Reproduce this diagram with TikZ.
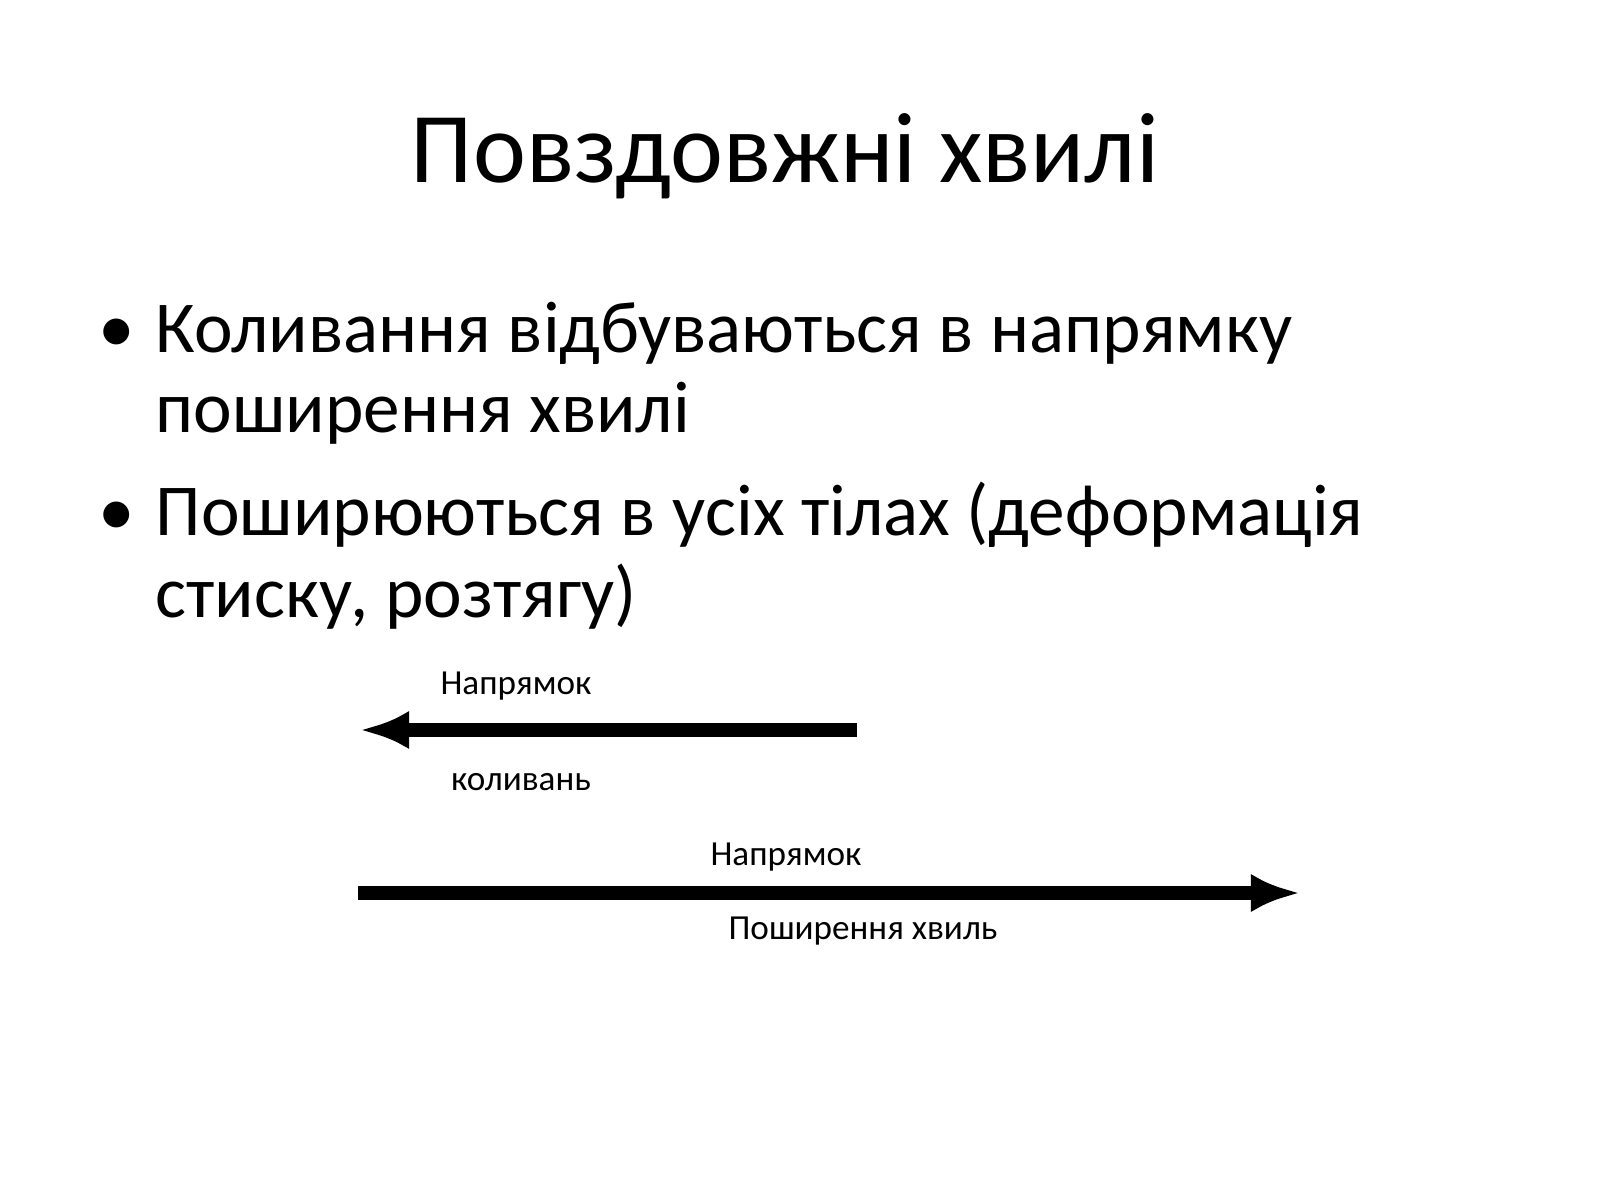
\documentclass[tikz,border=0pt]{standalone}
\usepackage{fontspec}
\setmainfont{Carlito}
\usetikzlibrary{arrows.meta}
\begin{document}
\begin{tikzpicture}[x=0.01cm,y=-0.01cm,
  title/.style={anchor=base,font=\fontsize{28.5pt}{30pt}\selectfont,inner sep=0},
  body/.style={anchor=base west,font=\fontsize{20.8pt}{24pt}\selectfont,inner sep=0},
  lbl/.style={anchor=base,font=\fontsize{10pt}{12pt}\selectfont,inner sep=0},
  arr/.style={line width=4pt,-{Latex[length=14pt,width=11pt]}}]
\useasboundingbox (0,0) rectangle (1600,1200);
\node[title] (t) at (785,182) {Повздовжні хвилі};
\node[body] (b1) at (98,352) {•};
\node[body] (l1) at (155,352) {Коливання відбуваються в напрямку};
\node[body] (l2) at (155,432) {поширення хвилі};
\node[body] (b2) at (98,535) {•};
\node[body] (l3) at (155,535) {Поширюються в усіх тілах (деформація};
\node[body] (l4) at (155,617) {стиску, розтягу)};
\coordinate (a1) at (360,730);
\coordinate (a2) at (857,730);
\draw[arr,{Latex[length=14pt,width=11pt]}-] (a1) -- (a2);
\node[lbl] (n1) at (516,694) {Напрямок};
\node[lbl] (n2) at (521,790) {коливань};
\coordinate (c1) at (358,893);
\coordinate (c2) at (1300,893);
\draw[arr] (c1) -- (c2);
\node[lbl] (n3) at (786,865) {Напрямок};
\node[lbl] (n4) at (863,939) {Поширення хвиль};
\end{tikzpicture}
\end{document}
